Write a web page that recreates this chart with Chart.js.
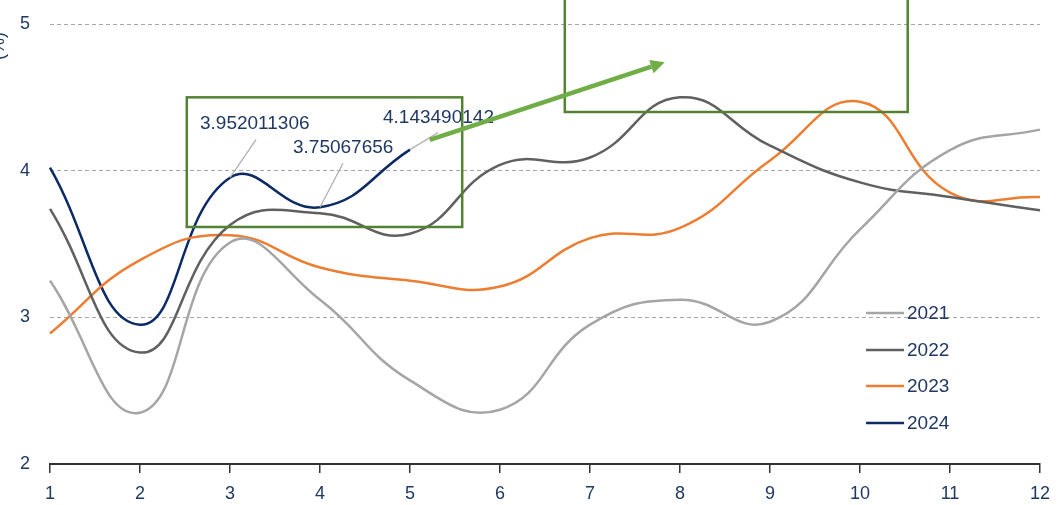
<!DOCTYPE html>
<html>
<head>
<meta charset="utf-8">
<script src="https://cdn.jsdelivr.net/npm/chart.js@4.4.1/dist/chart.umd.min.js"></script>
<style>
  html, body { margin: 0; padding: 0; background: #ffffff; }
  #wrap { width: 1063px; height: 505px; position: relative; }
</style>
</head>
<body>
<div id="wrap"><canvas id="c" width="1063" height="505"></canvas></div>
<script>
// Months on the x axis
const months = ['1', '2', '3', '4', '5', '6', '7', '8', '9', '10', '11', '12'];

// Yearly series
const y2021 = [3.25, 2.35, 3.51, 3.12, 2.57, 2.37, 2.95, 3.12, 2.97, 3.60, 4.14, 4.28];
const y2022 = [3.74, 2.76, 3.63, 3.71, 3.57, 4.04, 4.09, 4.50, 4.17, 3.92, 3.82, 3.73];
const y2023 = [2.89, 3.39, 3.56, 3.34, 3.25, 3.21, 3.54, 3.61, 4.07, 4.47, 3.85, 3.82];
const y2024 = [4.02, 2.95, 3.952011306, 3.75067656, 4.143490142];

// Y axis ticks
const yTicks = [2, 3, 4, 5];

// Labelled points of the 2024 series (month index)
const labelledIdx = [2, 3, 4];

// Highlight boxes and arrow, in axis units (x = month index from 0, y = value)
const boxes = [
  { x0: 1.52, x1: 4.58, y0: 3.616, y1: 4.50 },
  { x0: 5.72, x1: 9.53, y0: 4.40, y1: 5.2 }
];
const arrow = { x0: 4.22, y0: 4.21, x1: 6.83, y1: 4.74 };

// Legend rows, in axis units
const legendX = 9.067;
const legendRows = [3.03, 2.777, 2.532, 2.28];

const navy = '#1F3864';
const FONT = '"Liberation Sans", Arial, sans-serif';
const seriesColors = { '2021': '#A5A5A5', '2022': '#606060', '2023': '#ED7D31', '2024': '#0B2A66' };

const overlay = {
  id: 'overlay',
  afterDatasetsDraw(chart) {
    const ctx = chart.ctx;
    const xs = chart.scales.x, ys = chart.scales.y;
    ctx.save();

    // leader lines and value labels for 2024
    const offsets = [
      { lx: 26, ly: -38, tx: -30, ty: -54 },
      { lx: 23, ly: -44, tx: -27, ty: -59 },
      { lx: 28, ly: -17, tx: -27, ty: -32 }
    ];
    ctx.font = '19px ' + FONT;
    ctx.textBaseline = 'middle';
    ctx.textAlign = 'left';
    labelledIdx.forEach((i, k) => {
      const px = xs.getPixelForValue(i);
      const py = ys.getPixelForValue(y2024[i]);
      const o = offsets[k];
      ctx.strokeStyle = '#B0B0B0';
      ctx.lineWidth = 1.3;
      ctx.beginPath();
      ctx.moveTo(px, py);
      ctx.lineTo(px + o.lx, py + o.ly);
      ctx.stroke();
      ctx.fillStyle = navy;
      ctx.fillText(String(y2024[i]), px + o.tx, py + o.ty);
    });

    // green highlight boxes
    ctx.strokeStyle = '#548235';
    ctx.lineWidth = 2.5;
    boxes.forEach(b => {
      const x0 = xs.getPixelForValue(b.x0), x1 = xs.getPixelForValue(b.x1);
      const y0 = ys.getPixelForValue(b.y0), y1 = ys.getPixelForValue(b.y1);
      ctx.strokeRect(x0, y1, x1 - x0, y0 - y1);
    });

    // green arrow
    const ax0 = xs.getPixelForValue(arrow.x0), ay0 = ys.getPixelForValue(arrow.y0);
    const ax1 = xs.getPixelForValue(arrow.x1), ay1 = ys.getPixelForValue(arrow.y1);
    const ang = Math.atan2(ay1 - ay0, ax1 - ax0);
    const head = 14, hw = 7;
    const bx = ax1 - head * Math.cos(ang), by = ay1 - head * Math.sin(ang);
    ctx.strokeStyle = '#70AD47';
    ctx.fillStyle = '#70AD47';
    ctx.lineWidth = 4.5;
    ctx.beginPath();
    ctx.moveTo(ax0, ay0);
    ctx.lineTo(bx, by);
    ctx.stroke();
    ctx.beginPath();
    ctx.moveTo(ax1, ay1);
    ctx.lineTo(bx + hw * Math.sin(ang), by - hw * Math.cos(ang));
    ctx.lineTo(bx - hw * Math.sin(ang), by + hw * Math.cos(ang));
    ctx.closePath();
    ctx.fill();

    // legend inside the plot
    const lx = xs.getPixelForValue(legendX);
    const names = ['2021', '2022', '2023', '2024'];
    ctx.font = '19px ' + FONT;
    names.forEach((n, k) => {
      const y = ys.getPixelForValue(legendRows[k]);
      ctx.strokeStyle = seriesColors[n];
      ctx.lineWidth = 2.5;
      ctx.beginPath();
      ctx.moveTo(lx, y);
      ctx.lineTo(lx + 38, y);
      ctx.stroke();
      ctx.fillStyle = navy;
      ctx.textAlign = 'left';
      ctx.fillText(n, lx + 41, y + 1);
    });

    // y axis title (sits at the very edge of the canvas)
    ctx.translate(4, 46);
    ctx.rotate(-Math.PI / 2);
    ctx.fillStyle = navy;
    ctx.textAlign = 'center';
    ctx.textBaseline = 'alphabetic';
    ctx.font = '18px ' + FONT;
    ctx.fillText('(%)', 0, 0);
    ctx.restore();
  }
};

const mk = (label, data) => ({
  label, data,
  borderColor: seriesColors[label],
  borderWidth: 2.5,
  pointRadius: 0,
  tension: 0.45,
  fill: false
});

new Chart(document.getElementById('c'), {
  type: 'line',
  data: {
    labels: months,
    datasets: [
      mk('2021', y2021),
      mk('2022', y2022),
      mk('2023', y2023),
      mk('2024', y2024)
    ]
  },
  options: {
    responsive: false,
    animation: false,
    devicePixelRatio: 1,
    layout: { padding: { left: 0, right: 23, top: 24, bottom: 0 } },
    plugins: { legend: { display: false }, tooltip: { enabled: false } },
    scales: {
      x: {
        offset: false,
        afterFit(axis) { axis.height = 41; axis.paddingLeft = 0; axis.paddingRight = 0; },
        border: { display: true, color: '#333333', width: 2 },
        grid: { drawOnChartArea: false, drawTicks: true, tickLength: 9, color: '#333333', lineWidth: 1.5 },
        ticks: { color: navy, font: { family: FONT, size: 18 }, padding: 10, maxRotation: 0 }
      },
      y: {
        min: 2, max: 5,
        afterBuildTicks(axis) { axis.ticks = yTicks.map(v => ({ value: v })); },
        afterFit(axis) { axis.width = 50; axis.paddingTop = 0; axis.paddingBottom = 0; },
        border: { display: false, dash: [4, 3] },
        grid: {
          drawTicks: false,
          color: (c) => c.tick && c.tick.value === 2 ? 'rgba(0,0,0,0)' : '#A6A6A6',
          lineWidth: 1
        },
        ticks: { color: navy, font: { family: FONT, size: 18 }, padding: 20 }
      }
    }
  },
  plugins: [overlay]
});
</script>
</body>
</html>
